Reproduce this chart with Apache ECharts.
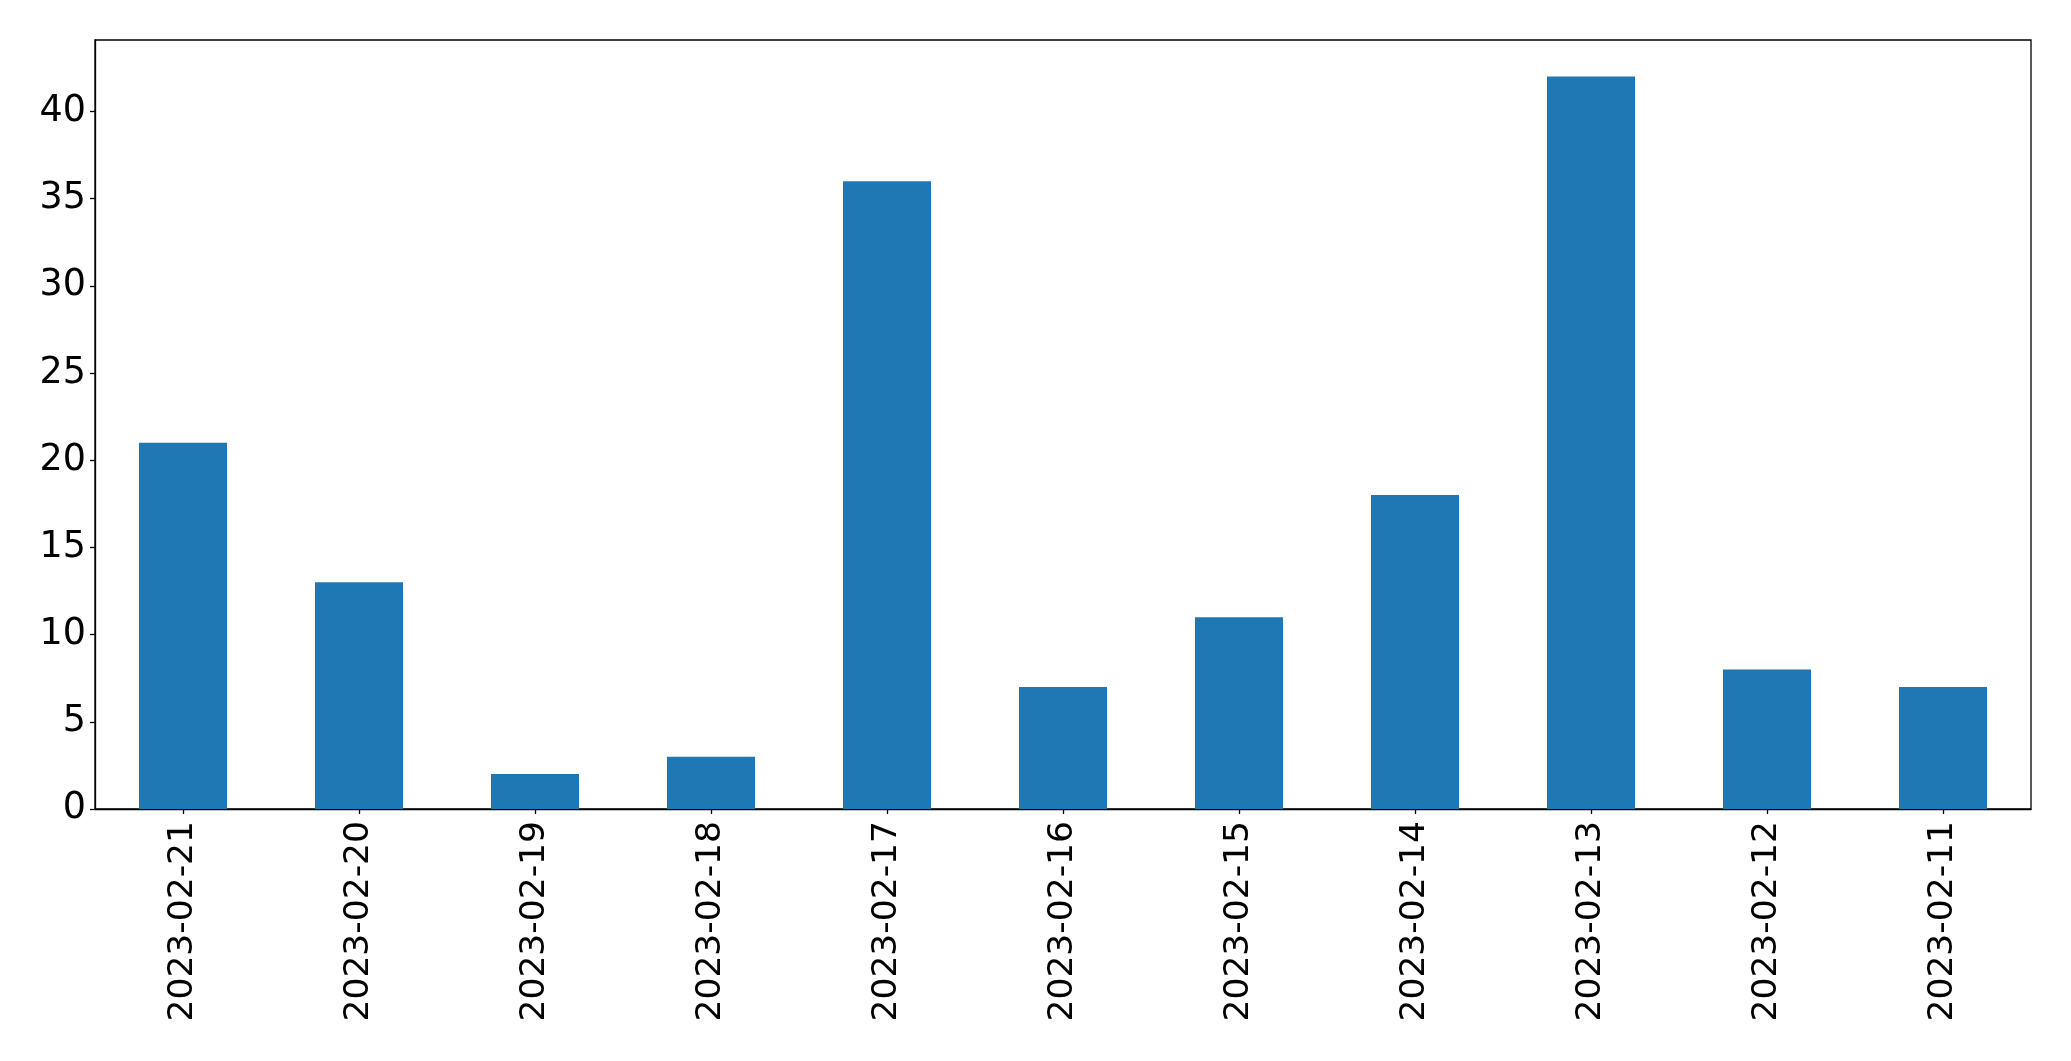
<!DOCTYPE html>
<html>
<head>
<meta charset="utf-8">
<script src="https://cdn.jsdelivr.net/npm/echarts@6/dist/echarts.min.js"></script>
<style>
html,body{margin:0;padding:0;background:#fff;}
#chart{width:2071px;height:1061px;}
</style>
</head>
<body>
<div id="chart"></div>
<script>
const categories = ["2023-02-21","2023-02-20","2023-02-19","2023-02-18","2023-02-17","2023-02-16","2023-02-15","2023-02-14","2023-02-13","2023-02-12","2023-02-11"];
const values = [21, 13, 2, 3, 36, 7, 11, 18, 42, 8, 7];
const yTicks = [0, 5, 10, 15, 20, 25, 30, 35, 40];

const chart = echarts.init(document.getElementById('chart'), null, {renderer: 'canvas'});
const font = 'DejaVu Sans';
chart.setOption({
  animation: false,
  backgroundColor: '#ffffff',
  grid: {left: 95, right: 40, top: 40, bottom: 252, show: true, borderColor: '#000', borderWidth: 1.3, backgroundColor: 'transparent', containLabel: false},
  xAxis: {
    type: 'category',
    data: categories,
    axisLine: {show: true, lineStyle: {color: '#000', width: 1.3}},
    axisTick: {show: true, alignWithLabel: true, length: 5, lineStyle: {color: '#000', width: 1.3}},
    axisLabel: {rotate: 90, margin: 12, fontFamily: font, fontSize: 34.5, color: '#000', interval: 0},
    splitLine: {show: false}
  },
  yAxis: {
    type: 'value',
    min: 0,
    max: 44.1,
    interval: 5,
    axisLine: {show: true, lineStyle: {color: '#000', width: 1.3}},
    axisTick: {show: true, length: 5, customValues: yTicks, lineStyle: {color: '#000', width: 1.3}},
    axisLabel: {margin: 9, fontFamily: font, fontSize: 36.5, color: '#000', customValues: yTicks},
    splitLine: {show: false}
  },
  series: [{
    type: 'bar',
    data: values,
    barWidth: '50%',
    itemStyle: {color: '#1f77b4'}
  }]
});
</script>
</body>
</html>
